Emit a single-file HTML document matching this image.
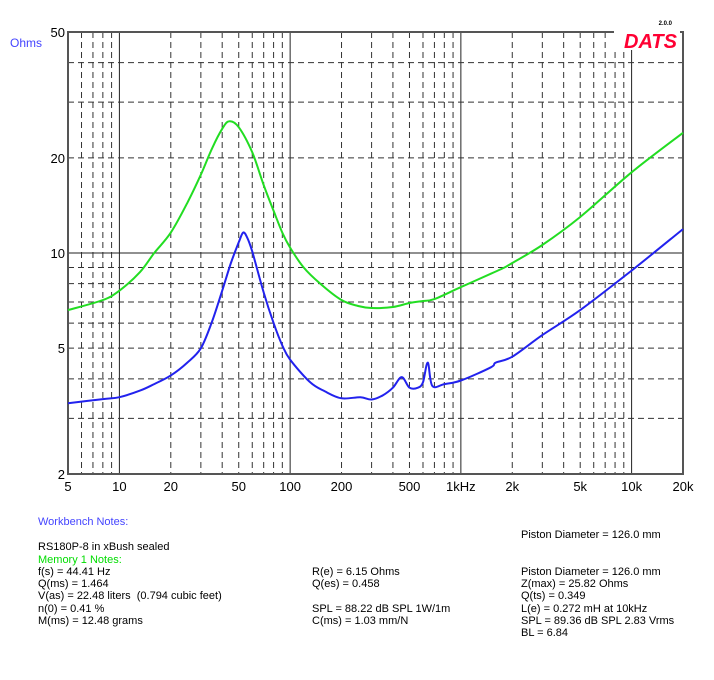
<!DOCTYPE html>
<html><head><meta charset="utf-8"><style>
body{margin:0;background:#fff;width:714px;height:680px;overflow:hidden;font-family:"Liberation Sans",Arial,sans-serif}
svg text{font-family:"Liberation Sans",Arial,sans-serif}
.t{position:absolute;font-size:11px;line-height:12.2px;white-space:pre;color:#000}
</style></head><body>
<svg id="chart" width="714" height="680" style="position:absolute;left:0;top:0">
<g id="grid"></g>
<g id="axes"></g>
<g id="series"></g>
<text x="10" y="47" fill="#4444ff" font-size="12">Ohms</text>
<text x="672" y="25" font-size="6" font-weight="bold" text-anchor="end">2.0.0</text>
<rect x="614" y="28" width="66" height="22" fill="#fff"/>
<text x="677" y="48" font-size="20" font-weight="bold" font-style="italic" fill="#ff0033" text-anchor="end">DATS</text>
</svg>
<div class="t" style="left:38px;top:516px;color:#4444ff">Workbench Notes:</div>
<div class="t" style="left:521px;top:529px">Piston Diameter = 126.0 mm</div>
<div class="t" style="left:38px;top:541px">RS180P-8 in xBush sealed</div>
<div class="t" style="left:38px;top:554px;color:#00dd00">Memory 1 Notes:</div>
<div class="t" style="left:38px;top:566px">f(s) = 44.41 Hz
Q(ms) = 1.464
V(as) = 22.48 liters  (0.794 cubic feet)
n(0) = 0.41 %
M(ms) = 12.48 grams</div>
<div class="t" style="left:312px;top:566px">R(e) = 6.15 Ohms
Q(es) = 0.458

SPL = 88.22 dB SPL 1W/1m
C(ms) = 1.03 mm/N</div>
<div class="t" style="left:521px;top:566px">Piston Diameter = 126.0 mm
Z(max) = 25.82 Ohms
Q(ts) = 0.349
L(e) = 0.272 mH at 10kHz
SPL = 89.36 dB SPL 2.83 Vrms
BL = 6.84</div>
<script>
const xTickValues=[5,10,20,50,100,200,500,1000,2000,5000,10000,20000];
const xTickLabels=["5","10","20","50","100","200","500","1kHz","2k","5k","10k","20k"];
const yTickValues=[2,5,10,20,50];
const yTickLabels=["2","5","10","20","50"];
const greenFreq=[5,8,10,13.2,16,20,25,30,35,40,44,50,60,70,80,90,100,120,150,200,250,300,400,500,600,700,1000,1500,1800,2000,3000,5000,10000,20000];
const greenOhms=[6.6,7.1,7.6,8.7,10.0,11.6,14.4,17.7,21.5,24.7,26.1,25.0,20.8,16.4,13.6,11.6,10.4,9.0,8.0,7.1,6.8,6.7,6.75,6.95,7.05,7.15,7.8,8.6,9.0,9.3,10.6,13.0,18.0,24.0];
const blueFreq=[5,8,10,13.2,16,20,25,30,35,40,45,50,53,56,60,70,80,90,100,131,160,200,258,300,350,400,450,500,560,600,640,680,800,1000,1500,1600,2000,3000,5000,10000,20000];
const blueOhms=[3.35,3.45,3.5,3.67,3.85,4.1,4.5,5.0,6.1,7.6,9.3,10.8,11.6,11.2,10.1,7.5,6.0,5.1,4.6,3.9,3.65,3.47,3.5,3.44,3.55,3.75,4.05,3.75,3.75,3.9,4.5,3.8,3.85,3.95,4.35,4.5,4.7,5.5,6.6,8.8,11.9];
const X0=68,X1=683,Y0=32,Y1=474;
function xs(f){return X0+(Math.log10(f)-Math.log10(5))/(Math.log10(20000)-Math.log10(5))*(X1-X0);}
function ys(v){return Y1-(Math.log10(v)-Math.log10(2))/(Math.log10(50)-Math.log10(2))*(Y1-Y0);}
const NS="http://www.w3.org/2000/svg";
function mk(tag,attrs,parent){const e=document.createElementNS(NS,tag);for(const k in attrs)e.setAttribute(k,attrs[k]);parent.appendChild(e);return e;}
const grid=document.getElementById('grid'),axes=document.getElementById('axes'),ser=document.getElementById('series');
for(let d=1;d<=10000;d*=10){for(let m=1;m<=9;m++){const f=m*d;if(f<5||f>20000)continue;
 const x=xs(f);const solid=(m===1);
 const l=mk('line',{x1:x,x2:x,y1:Y0,y2:Y1,stroke:solid?'#222':'#333','stroke-width':1,'stroke-dasharray':solid?'':'6,4'},grid);
 
 }}
for(let d=1;d<=10;d*=10){for(let m=1;m<=9;m++){const v=m*d;if(v<2||v>50)continue;
 const y=ys(v);const solid=(v===10);
 const l=mk('line',{x1:X0,x2:X1,y1:y,y2:y,stroke:solid?'#222':'#333','stroke-width':1,'stroke-dasharray':solid?'':'6,4'},grid);
 
 }}
const fr=mk('rect',{x:X0,y:Y0,width:X1-X0,height:Y1-Y0,fill:'none',stroke:'#555','stroke-width':2},axes);


xTickValues.forEach((v,i)=>{const t=mk('text',{x:xs(v),y:Y1+17,'font-size':13,'text-anchor':'middle'},axes);t.textContent=xTickLabels[i];
 
 });
yTickValues.forEach((v,i)=>{const t=mk('text',{x:X0-3,y:ys(v)+5,'font-size':13,'text-anchor':'end'},axes);t.textContent=yTickLabels[i];
 
 });
function draw(fs,vs,color,name){
 const P=fs.map((f,i)=>[xs(f),ys(vs[i])]);
 let d='M'+P[0][0].toFixed(1)+','+P[0][1].toFixed(1);
 for(let i=0;i<P.length-1;i++){
  const p0=P[Math.max(0,i-1)],p1=P[i],p2=P[i+1],p3=P[Math.min(P.length-1,i+2)];
  const c1=[p1[0]+(p2[0]-p0[0])/6,p1[1]+(p2[1]-p0[1])/6];
  const c2=[p2[0]-(p3[0]-p1[0])/6,p2[1]-(p3[1]-p1[1])/6];
  d+='C'+c1[0].toFixed(1)+','+c1[1].toFixed(1)+' '+c2[0].toFixed(1)+','+c2[1].toFixed(1)+' '+p2[0].toFixed(1)+','+p2[1].toFixed(1);
 }
 const p=mk('path',{d:d,fill:'none',stroke:color,'stroke-width':2,'stroke-linejoin':'round'},ser);
 
 }
draw(greenFreq,greenOhms,'#22dd22','memory-1-impedance-line');
draw(blueFreq,blueOhms,'#2222ee','impedance-line');
</script>
</body></html>
